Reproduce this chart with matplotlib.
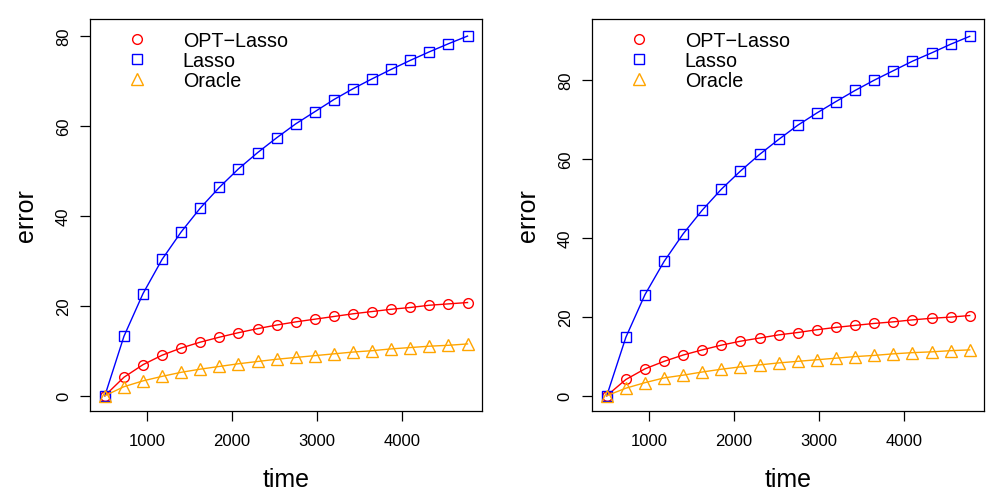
import numpy as np
import matplotlib
matplotlib.use("Agg")
import matplotlib.pyplot as plt
from matplotlib.lines import Line2D

plt.rcParams["font.family"] = ["Liberation Sans", "DejaVu Sans"]

# time grid: 500, 725, ..., 4775
time = np.arange(500, 4776, 225)

# left panel
opt_left    = [0, 4.1, 6.9, 9.0, 10.6, 11.9, 13.0, 14.0, 14.9, 15.7,
               16.4, 17.0, 17.6, 18.2, 18.7, 19.2, 19.6, 20.1, 20.4, 20.7]
lasso_left  = [0, 13.2, 22.7, 30.3, 36.4, 41.7, 46.3, 50.4, 54.0, 57.3,
               60.4, 63.1, 65.8, 68.2, 70.4, 72.5, 74.5, 76.4, 78.2, 79.9]
oracle_left = [0, 2.0, 3.3, 4.3, 5.2, 5.9, 6.5, 7.1, 7.6, 8.1,
               8.5, 8.9, 9.3, 9.7, 10.0, 10.4, 10.7, 11.0, 11.2, 11.5]

# right panel
opt_right    = [0, 4.1, 6.8, 8.7, 10.3, 11.6, 12.8, 13.8, 14.6, 15.4,
                16.0, 16.7, 17.3, 17.8, 18.3, 18.7, 19.2, 19.6, 19.9, 20.3]
lasso_right  = [0, 14.8, 25.6, 34.0, 41.0, 47.0, 52.3, 56.9, 61.1, 64.9,
                68.5, 71.6, 74.5, 77.3, 79.9, 82.3, 84.7, 86.8, 89.0, 91.0]
oracle_right = [0, 1.9, 3.3, 4.5, 5.2, 6.0, 6.7, 7.3, 7.8, 8.3,
                8.7, 9.1, 9.5, 9.9, 10.2, 10.6, 10.9, 11.1, 11.4, 11.6]

labels = ["OPT\u2212Lasso", "Lasso", "Oracle"]
colors = ["#FF0000", "#0000FF", "#FFA500"]
markers = ["o", "s", "^"]
msizes = [7, 6.5, 8]

x_ticks = [1000, 2000, 3000, 4000]
y_ticks = [0, 20, 40, 60, 80]
ylim_left = (-3.33, 83.7)
ylim_right = (-3.8, 95.4)


def r_lim(lo, hi):
    pad = 0.04 * (hi - lo)
    return lo - pad, hi + pad


def draw_panel(ax, series, ylim):
    for ys, c, m, ms in zip(series, colors, markers, msizes):
        ax.plot(time, ys, color=c, lw=1.0, marker=m, ms=ms,
                mfc="none", mec=c, mew=1.0)
    ax.set_xlim(*r_lim(time.min(), time.max()))
    ax.set_ylim(*ylim)
    ax.set_xticks(x_ticks)
    ax.set_yticks(y_ticks)
    ax.tick_params(axis="both", direction="out", length=7, width=0.9,
                   labelsize=12)
    ax.tick_params(axis="x", pad=9)
    ax.tick_params(axis="y", pad=7)
    for lab in ax.get_yticklabels():
        lab.set_rotation(90)
        lab.set_va("center")
    for sp in ax.spines.values():
        sp.set_linewidth(0.9)
    ax.set_xlabel("time", fontsize=18, labelpad=14)
    ax.set_ylabel("error", fontsize=18, labelpad=13)

    handles = [Line2D([], [], ls="none", marker=m, ms=ms, mfc="none",
                      mec=c, mew=1.0) for c, m, ms in zip(colors, markers, msizes)]
    ax.legend(handles, labels, loc="upper left", bbox_to_anchor=(0.093, 0.969),
              frameon=False, fontsize=14.2, handlelength=1.0,
              handletextpad=1.84, labelspacing=0.05, borderaxespad=0,
              borderpad=0)


fig = plt.figure(figsize=(10.04, 5.02), dpi=100)
ax1 = fig.add_axes([0.0900, 0.1799, 0.3901, 0.7803])
ax2 = fig.add_axes([0.5899, 0.1799, 0.3904, 0.7803])

draw_panel(ax1, [opt_left, lasso_left, oracle_left], ylim_left)
draw_panel(ax2, [opt_right, lasso_right, oracle_right], ylim_right)

fig.savefig("out.png", dpi=100)
